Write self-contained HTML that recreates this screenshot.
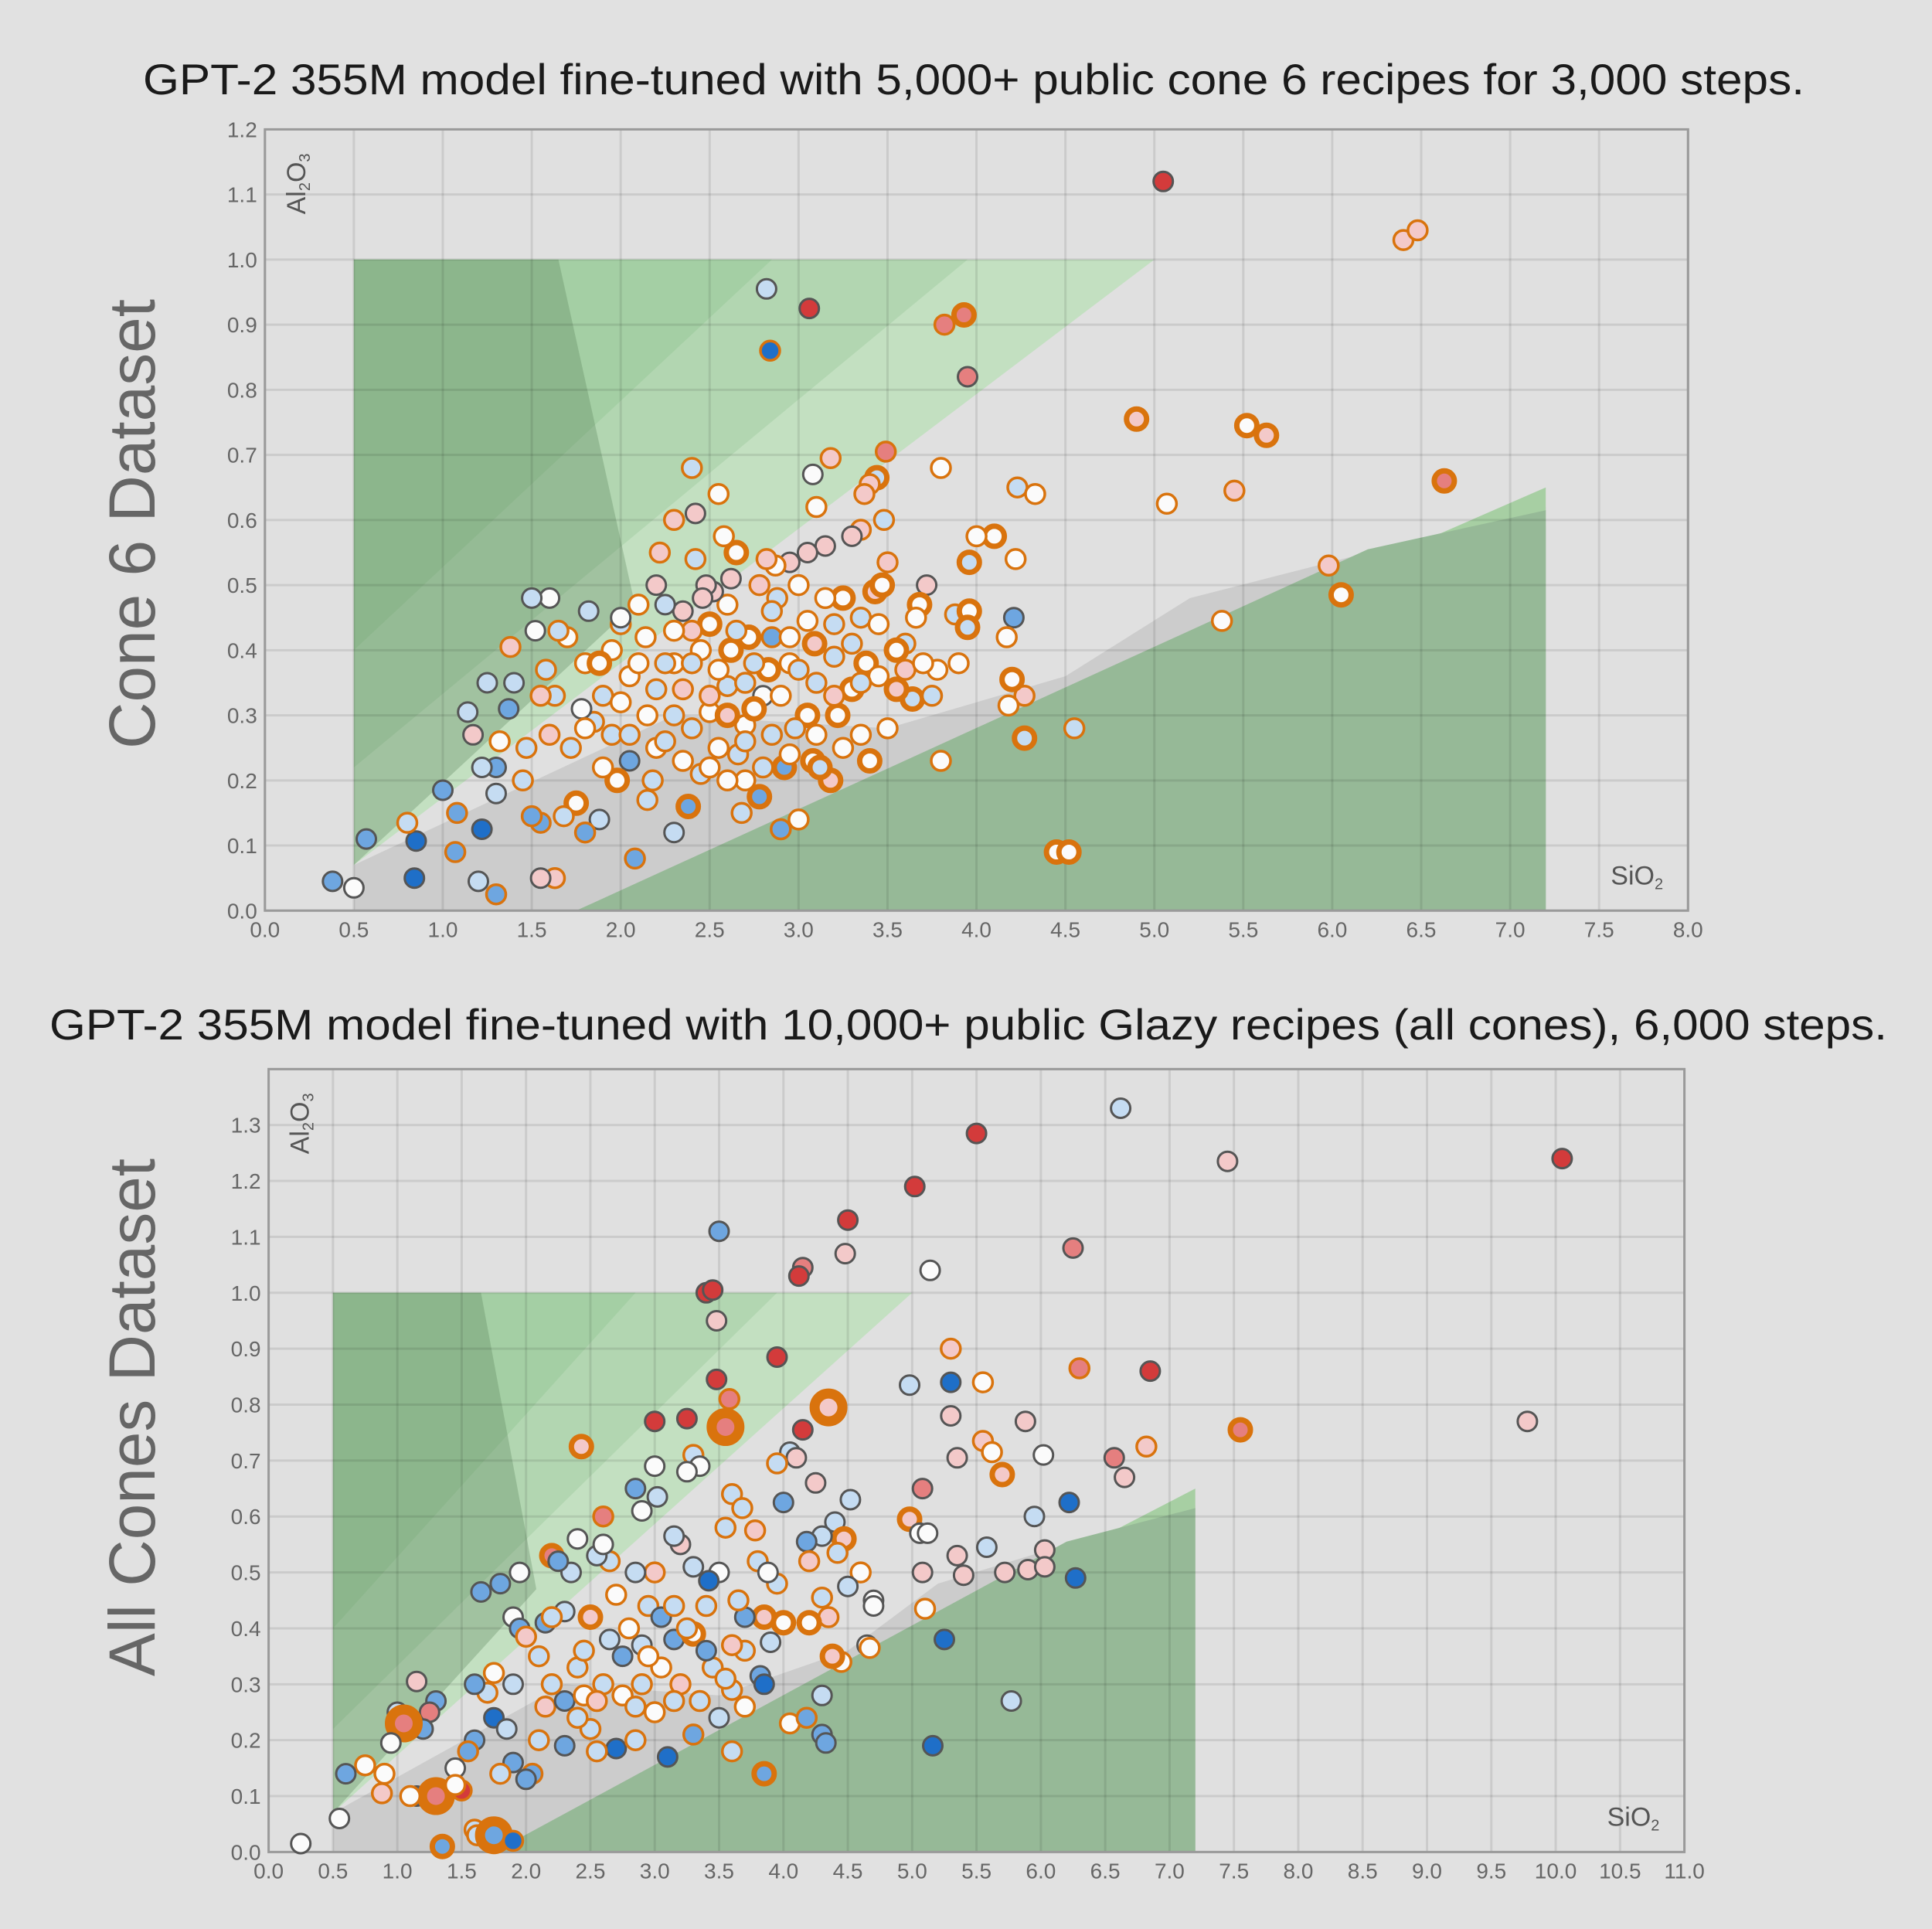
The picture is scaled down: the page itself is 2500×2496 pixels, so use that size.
<!DOCTYPE html>
<html><head><meta charset="utf-8"><style>
html,body{margin:0;padding:0;background:#e1e1e1;}
svg{display:block;font-family:"Liberation Sans",sans-serif;}
</style></head><body>
<svg id="chart" width="2500" height="2496" viewBox="0 0 2500 2496" xmlns="http://www.w3.org/2000/svg">
<rect x="0" y="0" width="2500" height="2496" fill="#e1e1e1"/>
<text x="1260" y="122" font-size="56" fill="#1a1a1a" text-anchor="middle" textLength="2150" lengthAdjust="spacingAndGlyphs">GPT-2 355M model fine-tuned with 5,000+ public cone 6 recipes for 3,000 steps.</text>
<text x="1253" y="1345" font-size="56" fill="#1a1a1a" text-anchor="middle" textLength="2378" lengthAdjust="spacingAndGlyphs">GPT-2 355M model fine-tuned with 10,000+ public Glazy recipes (all cones), 6,000 steps.</text>
<text transform="translate(200,678) rotate(-90)" font-size="84" fill="#666" text-anchor="middle" textLength="582" lengthAdjust="spacingAndGlyphs">Cone 6 Dataset</text>
<text transform="translate(200,1834) rotate(-90)" font-size="84" fill="#666" text-anchor="middle" textLength="670" lengthAdjust="spacingAndGlyphs">All Cones Dataset</text>
<g id="top"></g>
<g id="bot"></g>
</svg>
<script>
// ---- Top chart (Cone 6) ----
const topSiO2 = [
5.05,6.4,6.48,2.82,3.06,2.84,3.82,3.93,3.95,4.9,
5.52,5.63,6.63,3.49,3.08,3.18,3.8,2.4,4.23,4.33,
5.07,5.45,5.98,6.05,5.38,4.55,4.45,4.52,4.27,4.2,
4.27,4.21,4.17,4.18,4.22,4.1,4.0,3.96,3.88,3.96,
3.95,3.9,3.8,3.78,3.72,3.68,3.66,3.64,3.6,3.55,
3.5,3.5,3.48,3.44,3.4,3.37,3.35,3.3,3.35,3.43,
3.47,3.38,3.4,3.35,3.3,3.25,3.2,3.22,3.18,3.15,
3.1,3.05,3.09,3.05,3.0,3.05,3.08,3.12,3.0,2.95,
2.87,2.82,2.88,2.85,2.83,2.8,2.78,2.92,2.9,2.78,
2.75,2.72,2.7,2.68,2.66,2.65,2.62,2.6,2.6,2.58,
2.55,2.52,2.5,2.5,2.48,2.46,2.45,2.42,2.42,2.4,
2.38,2.35,2.3,2.3,2.3,2.3,2.25,2.22,2.2,2.2,
2.18,2.14,2.1,2.08,2.05,2.05,2.0,1.95,1.95,1.9,
1.88,1.85,1.82,1.8,1.78,1.75,1.72,1.7,1.68,1.65,
1.63,1.6,1.6,1.58,1.55,1.55,1.52,1.5,1.5,1.47,
1.45,1.4,1.38,1.37,1.32,1.3,1.3,1.3,1.25,1.22,
1.22,1.2,1.17,1.14,1.08,1.07,1.0,0.85,0.84,0.8,
0.57,0.38,0.5,1.63,1.55,1.8,1.88,2.0,2.25,2.35,
2.55,2.7,2.62,2.95,2.98,3.2,2.45,2.15,1.98,2.6,
2.7,2.9,3.1,3.25,2.85,2.55,2.4,2.2,2.0,2.35,
2.6,2.8,2.95,3.15,3.3,3.45,3.55,3.6,3.7,3.75,
2.4,2.1,1.9,2.25,2.5,2.75,3.0,3.1,3.35,2.85,
2.05,1.8,2.3,2.65,2.95,3.2,3.45,2.7,2.5,2.15];
const topAl2O3 = [
1.12,1.03,1.045,0.955,0.925,0.86,0.9,0.915,0.82,0.755,
0.745,0.73,0.66,0.705,0.67,0.695,0.68,0.68,0.65,0.64,
0.625,0.645,0.53,0.485,0.445,0.28,0.09,0.09,0.33,0.355,
0.265,0.45,0.42,0.315,0.54,0.575,0.575,0.535,0.455,0.46,
0.435,0.38,0.23,0.37,0.5,0.47,0.45,0.325,0.41,0.34,
0.28,0.535,0.6,0.665,0.655,0.64,0.585,0.575,0.45,0.49,
0.5,0.38,0.23,0.27,0.34,0.48,0.39,0.3,0.2,0.56,
0.62,0.55,0.41,0.445,0.5,0.3,0.23,0.22,0.14,0.535,
0.53,0.54,0.48,0.42,0.37,0.33,0.175,0.22,0.125,0.5,
0.38,0.42,0.285,0.15,0.24,0.55,0.51,0.47,0.345,0.575,
0.64,0.49,0.44,0.305,0.5,0.48,0.21,0.61,0.54,0.43,
0.16,0.46,0.38,0.3,0.12,0.6,0.47,0.55,0.5,0.34,
0.2,0.42,0.47,0.08,0.23,0.36,0.44,0.4,0.27,0.33,
0.14,0.29,0.46,0.38,0.31,0.165,0.25,0.42,0.145,0.43,
0.33,0.48,0.27,0.37,0.33,0.135,0.43,0.48,0.145,0.25,
0.2,0.35,0.405,0.31,0.26,0.22,0.18,0.025,0.35,0.22,
0.125,0.045,0.27,0.305,0.15,0.09,0.185,0.107,0.05,0.135,
0.11,0.045,0.035,0.05,0.05,0.12,0.38,0.45,0.38,0.23,
0.25,0.2,0.4,0.38,0.28,0.44,0.4,0.3,0.2,0.3,
0.35,0.33,0.35,0.25,0.27,0.37,0.28,0.25,0.32,0.34,
0.2,0.22,0.42,0.48,0.41,0.36,0.4,0.37,0.38,0.33,
0.38,0.38,0.22,0.26,0.33,0.31,0.37,0.27,0.35,0.46,
0.27,0.28,0.43,0.43,0.24,0.33,0.44,0.26,0.22,0.17];
const topFill = [
6,4,4,1,6,3,5,5,5,4,
0,4,5,5,0,4,0,1,1,0,
0,4,4,0,0,1,0,0,4,0,
1,2,0,0,0,0,0,1,1,0,
1,0,0,0,4,0,0,1,1,4,
0,4,1,1,4,4,4,4,1,4,
0,0,0,0,0,0,1,0,4,4,
0,4,4,0,0,0,0,1,0,4,
0,4,1,2,0,0,2,2,2,4,
1,0,0,1,1,0,4,0,1,0,
0,4,0,0,4,4,1,4,1,4,
2,4,0,1,1,4,1,4,4,1,
1,0,0,2,2,0,1,0,1,1,
1,1,1,0,0,0,1,0,1,1,
1,0,4,1,4,2,0,1,2,1,
1,1,4,2,0,2,1,2,1,1,
3,1,4,1,2,2,2,3,3,1,
2,2,0,4,4,2,0,0,1,0,
0,0,0,0,1,1,0,0,0,4,
1,0,1,0,1,0,1,0,0,4,
0,1,0,0,1,0,0,4,0,1,
1,0,0,1,4,0,1,0,1,1,
1,0,0,1,0,4,0,1,0,1];
const topEdge = [
"g","o","o","g","g","o","o","O","g","O",
"O","O","O","o","g","o","o","o","o","o",
"o","o","o","O","o","o","O","O","o","O",
"O","g","o","o","o","O","o","O","o","O",
"O","o","o","o","g","O","o","O","o","O",
"o","o","o","O","o","o","o","g","o","O",
"O","O","O","o","O","O","o","O","O","g",
"o","g","O","o","o","O","O","O","o","g",
"o","o","o","o","O","g","O","O","o","o",
"o","O","o","o","o","O","g","o","o","o",
"o","g","O","o","g","g","o","g","o","o",
"O","g","o","o","g","o","g","o","g","o",
"o","o","o","o","g","o","o","o","o","o",
"g","o","g","o","g","O","o","o","o","o",
"o","g","o","o","o","o","g","g","o","o",
"o","g","o","g","o","g","g","o","g","g",
"g","g","g","g","o","o","g","g","g","o",
"g","g","g","o","g","o","O","g","o","o",
"o","o","O","o","o","o","o","o","O","O",
"o","o","o","o","o","o","o","o","o","o",
"o","o","o","o","o","o","O","o","o","o",
"o","o","o","o","o","O","o","o","o","o",
"o","o","o","o","o","o","o","o","o","o"];

// ---- Bottom chart (all cones) ----
const botSiO2 = [
6.62,5.5,7.45,10.05,5.02,4.5,3.5,4.48,4.15,4.12,
6.25,5.14,3.4,3.45,3.48,3.95,3.48,5.3,5.3,4.98,
5.55,6.3,6.85,9.78,7.55,3.58,4.35,3.55,3.0,3.25,
4.15,2.43,5.3,5.88,5.55,5.62,6.82,6.02,5.7,6.57,
6.65,5.35,4.98,5.08,4.05,4.1,4.25,3.95,3.3,3.0,
3.35,3.25,2.85,3.02,2.9,2.6,3.6,3.68,4.0,4.52,
5.06,5.12,5.58,6.22,6.03,5.95,5.35,5.4,5.72,5.9,
6.03,6.27,5.08,5.1,5.25,5.16,5.77,4.7,4.7,4.6,
4.65,4.67,4.4,4.47,4.42,4.3,4.18,4.2,4.5,4.35,
4.3,4.2,4.0,3.95,3.85,3.8,3.78,3.88,3.7,3.7,
3.55,3.5,3.42,3.3,3.2,3.15,3.0,2.95,2.85,2.65,
2.55,2.6,2.4,2.2,2.35,2.25,1.95,1.8,1.65,1.9,
1.95,2.0,2.15,2.5,2.7,2.9,3.15,3.3,3.6,3.82,
3.85,3.6,3.85,4.05,4.18,4.3,4.3,4.33,3.9,4.45,
4.38,2.3,2.4,2.6,2.75,2.85,3.0,3.2,3.35,3.5,
3.6,3.3,3.1,2.7,2.55,2.3,2.1,2.05,2.0,2.15,
2.3,2.5,2.45,1.9,1.75,1.7,1.6,1.75,1.85,1.9,
1.8,1.6,1.55,1.45,1.3,1.25,1.15,1.0,1.2,1.05,
0.95,1.15,1.3,1.5,1.45,0.75,0.9,0.88,1.1,0.6,
0.55,0.25,1.35,1.6,1.62,1.75,1.9,2.2,2.45,2.8,
3.05,3.25,3.45,2.75,3.05,3.4,2.1,2.55,3.7,2.9,
3.15,3.4,3.55,2.65,2.95,3.15,2.4,2.85,2.2,3.65];
const botAl2O3 = [
1.33,1.285,1.235,1.24,1.19,1.13,1.11,1.07,1.045,1.03,
1.08,1.04,1.0,1.005,0.95,0.885,0.845,0.9,0.84,0.835,
0.84,0.865,0.86,0.77,0.755,0.81,0.795,0.76,0.77,0.775,
0.755,0.725,0.78,0.77,0.735,0.715,0.725,0.71,0.675,0.705,
0.67,0.705,0.595,0.65,0.715,0.705,0.66,0.695,0.71,0.69,
0.69,0.68,0.65,0.635,0.61,0.6,0.64,0.615,0.625,0.63,
0.57,0.57,0.545,0.625,0.54,0.6,0.53,0.495,0.5,0.505,
0.51,0.49,0.5,0.435,0.38,0.19,0.27,0.45,0.44,0.5,
0.37,0.365,0.59,0.56,0.535,0.565,0.555,0.52,0.475,0.42,
0.455,0.41,0.41,0.48,0.42,0.52,0.575,0.5,0.36,0.42,
0.58,0.5,0.485,0.51,0.55,0.565,0.5,0.44,0.5,0.52,
0.53,0.55,0.56,0.53,0.5,0.52,0.5,0.48,0.465,0.42,
0.4,0.385,0.41,0.42,0.46,0.37,0.38,0.39,0.37,0.315,
0.3,0.29,0.14,0.23,0.24,0.28,0.21,0.195,0.375,0.34,
0.35,0.43,0.33,0.3,0.28,0.26,0.25,0.3,0.27,0.24,
0.18,0.21,0.17,0.185,0.18,0.19,0.2,0.14,0.13,0.26,
0.27,0.22,0.28,0.3,0.32,0.285,0.3,0.24,0.22,0.16,
0.14,0.2,0.18,0.15,0.27,0.25,0.305,0.25,0.22,0.23,
0.195,0.1,0.1,0.11,0.12,0.155,0.14,0.105,0.1,0.14,
0.06,0.015,0.01,0.04,0.03,0.03,0.02,0.42,0.36,0.4,
0.33,0.4,0.33,0.35,0.42,0.44,0.35,0.27,0.26,0.3,
0.27,0.36,0.31,0.38,0.35,0.44,0.24,0.2,0.3,0.45];
const botFill = [
1,6,4,6,6,6,2,4,5,6,
5,0,6,6,4,6,6,4,3,1,
0,5,6,4,5,5,4,5,6,6,
6,4,4,4,4,0,4,0,4,5,
4,4,4,5,1,4,4,1,1,0,
0,0,2,1,0,5,1,1,2,1,
0,0,1,3,4,1,4,4,4,4,
4,3,4,0,3,3,1,0,0,0,
0,0,1,4,1,1,2,4,1,4,
1,0,0,1,4,1,4,0,1,2,
1,0,3,1,4,1,4,1,1,1,
1,0,0,5,1,2,0,2,2,0,
2,4,2,4,0,1,2,0,4,2,
3,1,2,0,2,1,2,2,1,0,
4,1,1,1,0,1,0,4,1,1,
1,2,3,3,1,2,1,2,2,4,
2,1,0,1,0,1,2,3,1,2,
1,2,2,0,2,5,4,1,2,5,
0,3,5,6,0,0,0,4,0,2,
0,0,2,1,1,2,3,1,1,0,
0,1,1,2,2,1,1,4,0,1,
1,2,1,1,0,1,1,1,1,1];
const botEdge = [
"g","g","g","g","g","g","g","g","g","g",
"g","g","g","g","g","g","g","o","g","g",
"o","o","g","g","O","o","B","B","g","g",
"g","O","g","g","o","o","o","g","O","g",
"g","g","O","g","g","g","g","o","o","g",
"g","g","g","g","g","o","o","o","g","g",
"g","g","g","g","g","g","g","g","g","g",
"g","g","g","o","g","g","g","g","g","o",
"g","o","g","O","o","g","g","o","g","o",
"o","O","O","o","O","o","o","g","o","g",
"o","g","g","g","g","g","o","o","g","o",
"g","g","g","O","g","g","g","g","g","g",
"g","o","g","O","o","g","g","O","o","g",
"g","o","O","o","o","g","g","g","g","o",
"O","g","o","o","o","o","o","o","o","g",
"o","o","g","g","o","g","o","o","g","o",
"g","o","o","g","o","o","g","g","g","g",
"o","g","o","g","g","g","g","g","g","B",
"g","g","B","o","o","o","o","o","o","g",
"g","g","O","o","o","B","o","o","o","o",
"o","o","o","g","g","o","o","o","o","o",
"o","g","o","g","o","o","o","o","o","o"];

const fillColors = ["#fbfbfb","#c5dcf2","#6ea6e0","#1f6fc8","#f3c9c9","#e57f7f","#d33b3b"];
const NS = "http://www.w3.org/2000/svg";
function mk(tag, attrs, parent){const e=document.createElementNS(NS,tag);for(const k in attrs)e.setAttribute(k,attrs[k]);parent.appendChild(e);return e;}

function drawChart(g, cfg, xs, ys, fills, edges, prefix){
  const X = v => cfg.x0 + v*(cfg.x1-cfg.x0)/cfg.xmax;
  const Y = v => cfg.y0 - v*(cfg.y0-cfg.y1)/cfg.yref;
  const pts = a => a.map(p=>X(p[0]).toFixed(1)+","+Y(p[1]).toFixed(1)).join(" ");
  const top = Y(cfg.ytop);
  const bg = mk('rect',{x:cfg.x0,y:top,width:cfg.x1-cfg.x0,height:cfg.y0-top,fill:'#e0e0e0'},g);
  
  
  const regions = [
    [[[0.5,0],[0.5,0.07],[2.3,0.3],[3.5,0.28],[4.5,0.36],[5.2,0.48],[7.2,0.62],[7.2,0]],'#cccccc','gray-zone'],
    [[[0.5,0.07],[0.5,1],[5,1]],'#c3e0c1','glossy-zone'],
    [[[0.5,0.22],[0.5,1],[3.95,1]],'#b2d6b1','glossy-zone-2'],
    [[[0.5,0.4],[0.5,1],[2.85,1]],'#a4cfa4','glossy-zone-3'],
    [[[0.5,1],[1.65,1],[2.08,0.47],[0.5,0.07]],'rgba(90,130,90,0.32)','matte-zone'],
    [[[1.75,0],[7.2,0.65],[7.2,0]],'#a7cfa3','underfired-edge'],
    [[[1.75,0],[6.2,0.555],[7.2,0.615],[7.2,0]],'#96b997','underfired-zone']
  ];
  regions.forEach(r=>{const p=mk('polygon',{points:pts(r[0]),fill:r[1]},g);
    
    });
  for(let v=0; v<=cfg.xmax+1e-9; v+=0.5){
    const l=mk('line',{x1:X(v),x2:X(v),y1:top,y2:cfg.y0,stroke:'rgba(0,0,0,0.09)','stroke-width':3},g);
    
    
    const t=mk('text',{x:X(v),y:cfg.y0+34,'font-size':28,fill:'#666','text-anchor':'middle'},g);
    t.textContent=v.toFixed(1);
    
    
  }
  for(let i=0;i<=Math.round(cfg.ytop*10);i++){
    const v=i/10;
    const l=mk('line',{x1:cfg.x0,x2:cfg.x1,y1:Y(v),y2:Y(v),stroke:'rgba(0,0,0,0.09)','stroke-width':3},g);
    
    
    if(v<=cfg.ylabMax+1e-9){
      const t=mk('text',{x:cfg.x0-10,y:Y(v)+10,'font-size':28,fill:'#666','text-anchor':'end'},g);
      t.textContent=v.toFixed(1);
      
      
    }
  }
  const fr=mk('rect',{x:cfg.x0,y:top,width:cfg.x1-cfg.x0,height:cfg.y0-top,fill:'none',stroke:'#9a9a9a','stroke-width':3},g);
  
  
  const al=mk('text',{transform:`translate(${cfg.x0+52},${top+110}) rotate(-90)`,'font-size':34,fill:'#555'},g);
  al.innerHTML='Al<tspan font-size="20" dy="6">2</tspan><tspan dy="-6">O</tspan><tspan font-size="20" dy="6">3</tspan>';
  
  
  const si=mk('text',{x:cfg.x1-100,y:cfg.y0-34,'font-size':34,fill:'#555'},g);
  si.innerHTML='SiO<tspan font-size="20" dy="6">2</tspan>';
  
  
  for(let i=0;i<xs.length;i++){
    const e=edges[i];
    let r=12.5, sw=3, st='#555';
    if(e==='o'){st='#d9730d';sw=3.5;}
    if(e==='O'){st='#d9730d';sw=7;r=13;}
    if(e==='B'){st='#d9730d';sw=13;r=18;}
    const c=mk('circle',{cx:X(xs[i]).toFixed(1),cy:Y(ys[i]).toFixed(1),r:r,fill:fillColors[fills[i]]||'#fbfbfb',stroke:st,'stroke-width':sw},g);
    
    
  }
}
drawChart(document.getElementById('top'),{x0:342.8,x1:2184.3,xmax:8,y0:1178.3,y1:167.4,yref:1.2,ytop:1.2,ylabMax:1.2},topSiO2,topAl2O3,topFill,topEdge,'top');
drawChart(document.getElementById('bot'),{x0:347.6,x1:2179.6,xmax:11,y0:2396.4,y1:1455.7,yref:1.3,ytop:1.4,ylabMax:1.3},botSiO2,botAl2O3,botFill,botEdge,'bottom');
</script>
</body></html>
